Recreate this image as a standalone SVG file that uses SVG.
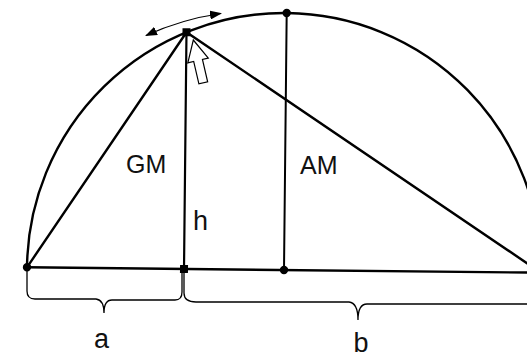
<svg xmlns="http://www.w3.org/2000/svg" width="527" height="357" viewBox="0 0 527 357">
<style>
.ln{fill:none;stroke:#000;stroke-width:2.4;stroke-linecap:round}
.thin{fill:none;stroke:#000;stroke-width:1.3}
.dot{fill:#000}
.lbl{font-family:"Liberation Sans",Arial,sans-serif;fill:#111}
</style>
<defs>
<marker id="ah" viewBox="0 0 12 9" refX="11" refY="4.5" markerWidth="12" markerHeight="9" markerUnits="userSpaceOnUse" orient="auto-start-reverse">
<path d="M0,0 L12,4.5 L0,9 Z" fill="#000"/>
</marker>
</defs>
<rect width="527" height="357" fill="#fff"/>
<g transform="rotate(0.6 284 270)">
<g id="connectors">
<path class="ln" d="M27,270 A257,257 0 0 1 541,270"/>
<path class="ln" d="M27,270 L541,270"/>
<path class="ln" d="M27,270 L184,33.3 L541,270"/>
<path class="ln" style="stroke-width:2.2" d="M184,33.3 L184,270"/>
<path class="ln" style="stroke-width:2" d="M284,13 L284,270"/>
</g>
<g id="node-left"><circle class="dot" cx="27" cy="270" r="4.2"/></g>
<g id="node-top"><circle class="dot" cx="284" cy="13" r="4.2"/></g>
<g id="node-center"><circle class="dot" cx="284" cy="270" r="4.2"/></g>
<g id="node-p"><rect class="dot" x="180" y="29.3" width="8" height="8"/></g>
<g id="node-foot"><rect class="dot" x="180" y="266" width="8" height="8"/></g>
</g>
<g id="motion-arrow">
<path class="thin" style="stroke-width:1.1" d="M146,35.5 Q181.6,19.2 221,13.5" marker-start="url(#ah)" marker-end="url(#ah)"/>
</g>
<g id="pointer">
<polygon transform="translate(193.3,40) rotate(-13.1)" points="0,0 10.5,21 4.5,21 4.5,44 -4.5,44 -4.5,21 -10.5,21" fill="#fff" stroke="#000" stroke-width="1.2" stroke-linejoin="miter"/>
</g>
<g id="brace-a">
<path class="thin" d="M27,270 V291 Q27,299 35,299 H96 Q104,300 104,313 Q104,300 112,300 H175 Q182,300 182,292 V273"/>
<text class="lbl" x="101.5" y="348" font-size="27" text-anchor="middle">a</text>
</g>
<g id="brace-b">
<path class="thin" d="M184,272 V293 Q184,302 196,302 H349 Q358,303 358,320 Q358,304 367,304 H530"/>
<text class="lbl" x="361" y="352" font-size="27" text-anchor="middle">b</text>
</g>
<g id="labels">
<text class="lbl" x="126" y="173" font-size="25">GM</text>
<text class="lbl" x="300" y="174" font-size="25">AM</text>
<text class="lbl" x="193" y="230" font-size="27">h</text>
</g>
</svg>
